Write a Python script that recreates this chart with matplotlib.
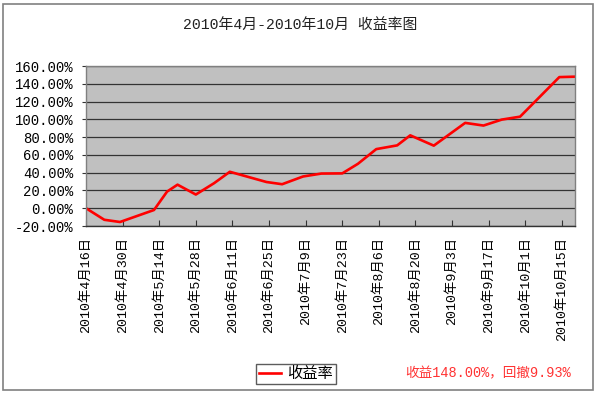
import datetime as dt
import matplotlib
matplotlib.use("Agg")
import matplotlib.pyplot as plt
from matplotlib.patches import Rectangle

# 收益率曲线
dates = ["2010-04-16", "2010-04-23", "2010-04-29", "2010-05-12", "2010-05-17",
         "2010-05-21", "2010-05-28", "2010-06-04", "2010-06-10", "2010-06-24",
         "2010-06-30", "2010-07-08", "2010-07-15", "2010-07-23", "2010-07-29",
         "2010-08-05", "2010-08-13", "2010-08-18", "2010-08-27", "2010-09-08",
         "2010-09-15", "2010-09-22", "2010-09-29", "2010-10-14", "2010-10-20"]
returns = [0.0, -13.0, -15.5, -2.0, 18.7, 26.5, 15.4, 28.2, 41.0, 29.5,
           27.0, 35.7, 39.0, 39.2, 50.0, 66.5, 70.7, 82.0, 70.4, 96.0,
           93.0, 99.7, 103.0, 147.5, 148.0]
tick_dates = ["2010-04-16", "2010-04-30", "2010-05-14", "2010-05-28", "2010-06-11",
              "2010-06-25", "2010-07-09", "2010-07-23", "2010-08-06", "2010-08-20",
              "2010-09-03", "2010-09-17", "2010-10-01", "2010-10-15"]
yticks = [-20, 0, 20, 40, 60, 80, 100, 120, 140, 160]

start = dt.date(2010, 4, 16)
day = lambda s: (dt.date.fromisoformat(s) - start).days
xs = [day(d) for d in dates]
xt = [day(d) for d in tick_dates]
cn = lambda s: "{}年{}月{}日".format(*map(int, s.split("-")))

FAM = ["Liberation Mono", "Noto Sans CJK SC"]

fig = plt.figure(figsize=(6, 3.96), dpi=100)
fig.patch.set_facecolor("white")
fig.patches.append(Rectangle((3 / 600, 6 / 396), 590 / 600, 386 / 396, transform=fig.transFigure,
                             fill=False, edgecolor="#808080", lw=1.2))

ax = fig.add_axes([86 / 600, (396 - 226) / 396, 489 / 600, 160 / 396])
ax.set_facecolor("#c0c0c0")
ax.plot(xs, returns, color="#ff0000", lw=1.9, label="收益率")
ax.set_xlim(0, 187)
ax.set_ylim(-20, 160)
ax.set_yticks(yticks)
ax.set_yticklabels([f"{v:.2f}%" for v in yticks], family=FAM, fontsize=10)
ax.set_xticks(xt)
ax.set_xticklabels([cn(d) for d in tick_dates], rotation=90, family=FAM, fontsize=9.6)
ax.yaxis.grid(True, color="#333333", lw=0.9)
ax.set_axisbelow(True)
ax.tick_params(axis="x", direction="in", length=4, width=0.8, color="#333333", pad=8)
ax.tick_params(axis="y", direction="out", length=3, width=0.8, color="#333333", pad=6)
for s in ax.spines.values():
    s.set_color("#808080")
    s.set_linewidth(1)
ax.spines["bottom"].set_color("#333333")

fig.text(0.5, 1 - 25 / 396, "2010年4月-2010年10月 收益率图", ha="center", va="center",
         family=FAM, fontsize=10.7, color="#222222")
leg = ax.legend(loc="center", bbox_to_anchor=(296 / 600, 1 - 374 / 396), bbox_transform=fig.transFigure,
                frameon=True, fancybox=False, edgecolor="#333333", handlelength=1.4,
                handletextpad=0.4, borderpad=0.2, prop={"family": FAM, "size": 11})
leg.get_frame().set_linewidth(1)
fig.text(571 / 600, 1 - 373 / 396, "收益148.00%，回撤9.93%", ha="right", va="center",
         family=FAM, fontsize=9.8, color="#ff3333")

fig.savefig("out.png", facecolor="white")
